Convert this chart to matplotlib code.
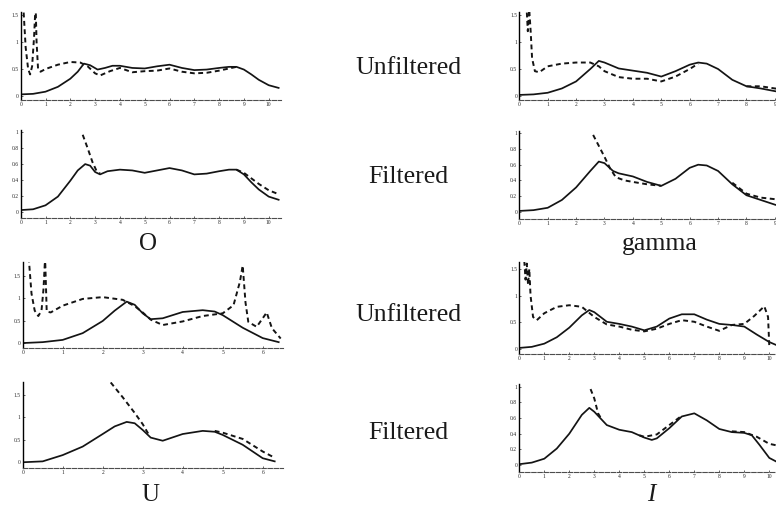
import numpy as np
import matplotlib
matplotlib.use("Agg")
import matplotlib.pyplot as plt

nan = np.nan

# ---------------- dados ----------------
# O, sem filtro
o_unf_solid_x = [0, 0.5, 1, 1.5, 2, 2.3, 2.55, 2.8, 3.1, 3.4, 3.7, 4, 4.5, 5, 5.5, 6, 6.5, 7, 7.5, 8, 8.4, 8.7, 9, 9.3, 9.6, 10, 10.4]
o_unf_solid_y = [0.03, 0.04, 0.08, 0.17, 0.32, 0.45, 0.6, 0.57, 0.49, 0.52, 0.56, 0.56, 0.52, 0.51, 0.55, 0.58, 0.52, 0.48, 0.49, 0.52, 0.54, 0.54, 0.49, 0.4, 0.3, 0.2, 0.15]
o_unf_dash_x = [0.1, 0.2, 0.3, 0.38, 0.46, 0.54, 0.6, 0.64, 0.7, 0.8, 1.0, 1.5, 2.0, 2.4, 2.7, 3.0, 3.2, 3.6, 4.0, 4.5, 5.0, 5.5, 6.0, 6.5, 7.0, 7.5, 8.0, 8.4, 8.7]
o_unf_dash_y = [1.7, 0.9, 0.5, 0.4, 0.55, 1.1, 1.7, 1.0, 0.5, 0.45, 0.5, 0.58, 0.63, 0.62, 0.55, 0.42, 0.38, 0.46, 0.52, 0.44, 0.46, 0.47, 0.51, 0.45, 0.42, 0.43, 0.47, 0.51, 0.54]

# O, filtrado
o_fil_solid_x = [0, 0.5, 1, 1.5, 2, 2.3, 2.6, 2.8, 3.0, 3.2, 3.5, 4, 4.5, 5, 5.5, 6, 6.5, 7, 7.5, 8, 8.4, 8.7, 9, 9.3, 9.6, 10, 10.4]
o_fil_solid_y = [0.02, 0.03, 0.08, 0.19, 0.39, 0.52, 0.6, 0.58, 0.5, 0.47, 0.51, 0.53, 0.52, 0.49, 0.52, 0.55, 0.52, 0.47, 0.48, 0.51, 0.53, 0.53, 0.47, 0.37, 0.28, 0.19, 0.15]
o_fil_dash_x = [2.5, 2.7, 2.9, 3.05, 3.2, nan, 8.7, 9, 9.3, 9.6, 10, 10.4]
o_fil_dash_y = [0.97, 0.8, 0.62, 0.52, 0.48, nan, 0.53, 0.49, 0.42, 0.35, 0.27, 0.22]

# U, sem filtro
u_unf_solid_x = [0, 0.5, 1, 1.5, 2, 2.3, 2.6, 2.8, 3.0, 3.2, 3.5, 4, 4.5, 4.8, 5, 5.5, 6, 6.4]
u_unf_solid_y = [0.0, 0.02, 0.07, 0.22, 0.49, 0.72, 0.92, 0.85, 0.66, 0.53, 0.55, 0.69, 0.73, 0.7, 0.62, 0.34, 0.11, 0.02]
u_unf_dash_x = [0.15, 0.22, 0.3, 0.39, 0.47, 0.52, 0.56, 0.6, 0.7, 1, 1.5, 2, 2.5, 2.8, 3, 3.2, 3.5, 4, 4.5, 5, 5.27, 5.43, 5.5, 5.57, 5.64, 5.85, 6.0, 6.1, 6.23, 6.45]
u_unf_dash_y = [1.9, 1.1, 0.72, 0.6, 0.72, 1.2, 1.9, 0.7, 0.68, 0.83, 0.98, 1.02, 0.96, 0.82, 0.68, 0.52, 0.4, 0.48, 0.6, 0.66, 0.84, 1.36, 1.72, 0.9, 0.47, 0.36, 0.55, 0.68, 0.33, 0.1]

# U, filtrado
u_fil_solid_x = [0, 0.5, 1, 1.5, 2, 2.3, 2.6, 2.8, 3.0, 3.2, 3.5, 4, 4.5, 4.8, 5, 5.5, 6, 6.3]
u_fil_solid_y = [0.0, 0.02, 0.16, 0.35, 0.63, 0.8, 0.9, 0.87, 0.72, 0.55, 0.48, 0.63, 0.7, 0.68, 0.61, 0.39, 0.09, 0.02]
u_fil_dash_x = [2.2, 2.5, 2.8, 3.0, 3.15, nan, 4.8, 5, 5.5, 6, 6.3]
u_fil_dash_y = [1.78, 1.45, 1.1, 0.85, 0.62, nan, 0.7, 0.66, 0.52, 0.24, 0.1]

# gamma, sem filtro
g_unf_solid_x = [0, 0.5, 1, 1.5, 2, 2.5, 2.8, 3, 3.5, 4, 4.5, 5, 5.5, 6, 6.3, 6.6, 7, 7.5, 8, 8.5, 9, 9.3]
g_unf_solid_y = [0.02, 0.03, 0.06, 0.14, 0.27, 0.5, 0.65, 0.62, 0.51, 0.47, 0.43, 0.36, 0.46, 0.58, 0.62, 0.6, 0.5, 0.3, 0.18, 0.14, 0.09, 0.06]
g_unf_dash_x = [0.25, 0.3, 0.35, 0.4, 0.45, 0.55, 0.7, 1, 1.5, 2, 2.5, 2.8, 3, 3.5, 4, 4.5, 5, 5.5, 6, 6.3, nan, 8, 8.5, 9, 9.3]
g_unf_dash_y = [1.7, 1.2, 1.6, 1.2, 0.7, 0.46, 0.44, 0.55, 0.6, 0.62, 0.62, 0.55, 0.46, 0.35, 0.32, 0.32, 0.27, 0.36, 0.5, 0.6, nan, 0.18, 0.18, 0.14, 0.12]

# gamma, filtrado
g_fil_solid_x = [0, 0.5, 1, 1.5, 2, 2.5, 2.8, 3, 3.3, 3.5, 4, 4.5, 5, 5.5, 6, 6.3, 6.6, 7, 7.5, 8, 8.5, 9, 9.3]
g_fil_solid_y = [0.01, 0.02, 0.05, 0.15, 0.31, 0.52, 0.64, 0.62, 0.52, 0.49, 0.45, 0.38, 0.33, 0.42, 0.56, 0.6, 0.59, 0.52, 0.35, 0.21, 0.15, 0.09, 0.06]
g_fil_dash_x = [2.6, 2.8, 3.0, 3.2, 3.4, 3.7, 4, 4.5, 5, nan, 7.5, 8, 8.5, 9, 9.3]
g_fil_dash_y = [0.98, 0.84, 0.7, 0.55, 0.44, 0.4, 0.38, 0.35, 0.33, nan, 0.37, 0.23, 0.18, 0.16, 0.15]

# I, sem filtro
i_unf_solid_x = [0, 0.5, 1, 1.5, 2, 2.5, 2.8, 3, 3.5, 4, 4.5, 5, 5.5, 6, 6.5, 7, 7.5, 8, 8.5, 9, 9.5, 10, 10.4]
i_unf_solid_y = [0.02, 0.04, 0.1, 0.22, 0.4, 0.63, 0.73, 0.69, 0.51, 0.47, 0.42, 0.35, 0.42, 0.57, 0.65, 0.65, 0.55, 0.47, 0.45, 0.42, 0.27, 0.13, 0.05]
i_unf_dash_x = [0.2, 0.25, 0.3, 0.35, 0.4, 0.45, 0.55, 0.7, 1, 1.5, 2, 2.5, 3, 3.5, 4, 4.5, 5, 5.5, 6, 6.5, 7, 7.5, 8, 8.5, 9, 9.4, 9.8, 9.95, 10.0]
i_unf_dash_y = [1.65, 1.3, 1.6, 1.2, 1.5, 1.0, 0.6, 0.54, 0.67, 0.79, 0.82, 0.79, 0.6, 0.46, 0.42, 0.36, 0.33, 0.38, 0.47, 0.54, 0.51, 0.42, 0.34, 0.45, 0.47, 0.62, 0.8, 0.6, 0.05]

# I, filtrado
i_fil_solid_x = [0, 0.5, 1, 1.5, 2, 2.5, 2.8, 3, 3.5, 4, 4.5, 5, 5.3, 5.5, 6, 6.5, 7, 7.5, 8, 8.5, 9, 9.3, 9.6, 10, 10.3]
i_fil_solid_y = [0.01, 0.03, 0.08, 0.21, 0.4, 0.64, 0.73, 0.68, 0.51, 0.45, 0.42, 0.35, 0.32, 0.34, 0.47, 0.62, 0.66, 0.57, 0.46, 0.42, 0.41, 0.38, 0.26, 0.09, 0.04]
i_fil_dash_x = [2.85, 3.0, 3.15, 3.3, nan, 4.8, 5, 5.5, 6, 6.5, nan, 8.5, 9, 9.5, 10, 10.3]
i_fil_dash_y = [0.97, 0.85, 0.66, 0.58, nan, 0.38, 0.36, 0.39, 0.51, 0.63, nan, 0.43, 0.42, 0.36, 0.27, 0.25]

ticks_half = [0, 0.5, 1, 1.5]
ticks_fifth = [0, 0.2, 0.4, 0.6, 0.8, 1]
labels_half = ['0', '0.5', '1', '1.5']
labels_fifth = ['0', '0.2', '0.4', '0.6', '0.8', '1']

W, H = 776, 507
fig = plt.figure(figsize=(W / 100, H / 100), dpi=100)
plt.rcParams['font.family'] = ['Liberation Serif', 'DejaVu Serif']


def painel(left, top, right, bottom, xlim, ylim, sx, sy, dx, dy, yt, yl, nx):
    ax = fig.add_axes([left / W, 1 - bottom / H, (right - left) / W, (bottom - top) / H])
    ax.plot(sx, sy, color='0.08', lw=1.25)
    ax.plot(dx, dy, color='0.08', lw=1.4, ls=(0, (2.5, 1.8)))
    ax.set_xlim(*xlim)
    ax.set_ylim(*ylim)
    ax.spines['top'].set_visible(False)
    ax.spines['right'].set_visible(False)
    ax.spines['left'].set_linewidth(1.0)
    ax.spines['bottom'].set_linewidth(0.8)
    ax.spines['bottom'].set_color('0.3')
    ax.spines['bottom'].set_linestyle((0, (4, 1.5)))
    ax.set_xticks(range(nx + 1))
    ax.set_xticklabels([str(i) for i in range(nx + 1)])
    ax.set_yticks(yt)
    ax.set_yticklabels(yl)
    ax.tick_params(labelsize=4, length=1.5, width=0.5, pad=1.5, direction='in', colors='0.15')
    ax.patch.set_alpha(0)
    return ax


painel(20.7, 12, 281.1, 100, (0, 10.5), (-0.074, 1.556),
       o_unf_solid_x, o_unf_solid_y, o_unf_dash_x, o_unf_dash_y, ticks_half, labels_half, 10)
painel(20.7, 130, 281.1, 218, (0, 10.5), (-0.08, 1.03),
       o_fil_solid_x, o_fil_solid_y, o_fil_dash_x, o_fil_dash_y, ticks_fifth, labels_fifth, 10)
painel(22.7, 262, 282.7, 348, (0, 6.5), (-0.11, 1.8),
       u_unf_solid_x, u_unf_solid_y, u_unf_dash_x, u_unf_dash_y, ticks_half, labels_half, 6)
painel(22.7, 382, 282.7, 468, (0, 6.5), (-0.128, 1.79),
       u_fil_solid_x, u_fil_solid_y, u_fil_dash_x, u_fil_dash_y, ticks_half, labels_half, 6)
painel(519.3, 12, 783.4, 100, (0, 9.3), (-0.074, 1.556),
       g_unf_solid_x, g_unf_solid_y, g_unf_dash_x, g_unf_dash_y, ticks_half, labels_half, 9)
painel(519.3, 131, 783.4, 219, (0, 9.3), (-0.093, 1.03),
       g_fil_solid_x, g_fil_solid_y, g_fil_dash_x, g_fil_dash_y, ticks_fifth, labels_fifth, 9)
painel(519.3, 262, 779.3, 354, (0, 10.4), (-0.094, 1.63),
       i_unf_solid_x, i_unf_solid_y, i_unf_dash_x, i_unf_dash_y, ticks_half, labels_half, 10)
painel(519.3, 384, 779.3, 472, (0, 10.4), (-0.09, 1.035),
       i_fil_solid_x, i_fil_solid_y, i_fil_dash_x, i_fil_dash_y, ticks_fifth, labels_fifth, 10)

# rótulos do meio (linha de base em px)
for txt, yy in [('Unfiltered', 74), ('Filtered', 183), ('Unfiltered', 321), ('Filtered', 439)]:
    fig.text(408 / W, 1 - yy / H, txt, ha='center', va='baseline', fontsize=18.5, color='0.1')

fig.text(148 / W, 1 - 250 / H, 'O', ha='center', va='baseline', fontsize=18, color='0.1')
fig.text(660 / W, 1 - 250 / H, 'gamma', ha='center', va='baseline', fontsize=18.5, color='0.1')
fig.text(150 / W, 1 - 501 / H, 'U', ha='center', va='baseline', fontsize=18, color='0.1')
fig.text(651 / W, 1 - 501 / H, 'I', ha='center', va='baseline', fontsize=18, color='0.1', style='italic')

fig.savefig('out.png', dpi=100)
